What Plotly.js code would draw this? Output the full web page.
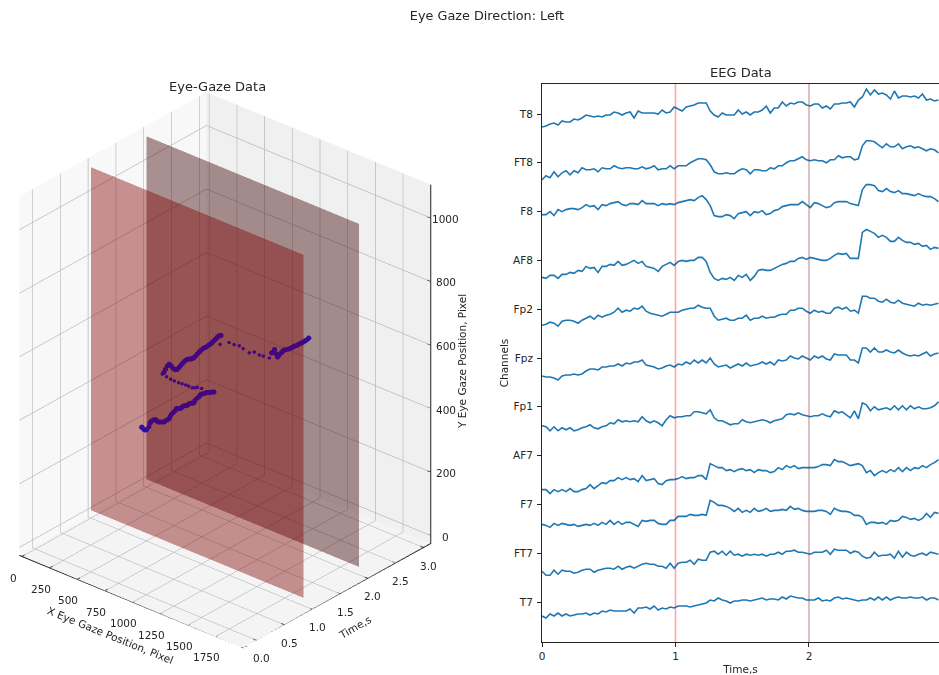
<!DOCTYPE html>
<html><head><meta charset="utf-8">
<script src="https://cdn.plot.ly/plotly-3.0.1.min.js"></script>
<style>html,body{margin:0;padding:0;background:#fff;overflow:hidden}</style></head>
<body><div id="chart" style="width:939px;height:675px"></div>
<script>
const channels = ['T7','FT7','F7','AF7','Fp1','Fpz','Fp2','AF8','F8','FT8','T8'];
const time = [0,.03,.06,.09,.12,.15,.18,.21,.24,.27,.3,.33,.36,.39,.42,.45,.48,.51,.54,.57,.6,.63,.66,.69,.72,.75,.78,.81,.84,.87,.9,.93,.96,.99,1.02,1.05,1.08,1.11,1.14,1.17,1.2,1.23,1.26,1.29,1.32,1.35,1.38,1.41,1.44,1.47,1.5,1.53,1.56,1.59,1.62,1.65,1.68,1.71,1.74,1.77,1.8,1.83,1.86,1.89,1.92,1.95,1.98,2.01,2.04,2.07,2.1,2.13,2.16,2.19,2.22,2.25,2.28,2.31,2.34,2.37,2.4,2.43,2.46,2.49,2.52,2.55,2.58,2.61,2.64,2.67,2.7,2.73,2.76,2.79,2.82,2.85,2.88,2.91,2.94,2.97];
const T8 = [-13,-12,-10,-9,-11,-7,-8,-8,-5,-6,-4,-1,-2,-3,-2,-3,-1,-1,2,1,-1,1,2,-4,3,1,1,1,1,0,4,1,2,7,5,3,7,8,9,11,11,11,3,-1,-3,1,-1,-1,-1,4,0,2,-1,2,2,4,8,1,6,6,12,8,11,10,12,12,9,8,10,10,6,8,5,10,10,11,11,12,7,14,17,25,19,24,20,21,19,15,23,16,18,18,17,18,16,20,14,15,13,14];
const FT8 = [-17,-13,-15,-9,-14,-10,-8,-12,-8,-10,-5,-7,-7,-6,-9,-5,-6,-6,-3,-5,-6,-5,-5,-6,-6,-4,-6,-5,-3,-7,-6,-6,-3,-6,-3,-3,-3,0,2,4,4,3,-2,-9,-11,-11,-10,-11,-11,-8,-6,-7,-11,-7,-7,-8,-8,-5,-6,-3,-3,0,2,2,4,6,3,2,3,2,2,0,3,3,7,5,6,6,3,4,17,22,22,21,18,15,19,16,16,19,14,16,17,15,16,14,12,14,13,10];
const F8 = [-3,-3,0,-4,2,0,2,3,3,2,4,7,5,6,2,7,6,8,9,10,7,6,8,8,7,11,8,8,8,6,8,7,8,7,9,10,11,12,11,14,16,12,6,-4,-5,-5,-3,-4,-7,-2,-1,0,-4,0,-1,1,-3,-2,1,2,5,6,7,7,7,10,7,4,9,8,6,4,5,9,10,10,10,8,7,6,22,27,27,26,21,20,23,20,19,21,18,18,17,16,18,16,15,15,13,10];
const AF8 = [-17,-18,-15,-15,-18,-14,-14,-12,-13,-10,-11,-6,-8,-7,-12,-6,-6,-4,-5,-1,-5,-4,-2,0,-3,-1,-6,-7,-8,-11,-6,-4,-2,-5,-1,0,-1,0,0,3,3,-1,-12,-18,-20,-18,-19,-17,-20,-15,-17,-14,-20,-16,-10,-9,-10,-10,-8,-6,-4,-3,-1,-1,2,3,1,3,2,1,0,0,2,5,7,6,7,2,2,2,28,31,29,27,23,25,23,19,19,23,20,18,18,16,17,14,15,11,13,12];
const Fp2 = [-16,-15,-13,-14,-17,-12,-11,-11,-12,-14,-11,-9,-7,-10,-6,-8,-6,-5,-3,1,-3,-1,-2,1,0,3,-2,-4,-5,-6,-7,-5,-3,-3,-3,-1,0,1,1,4,2,1,1,-7,-11,-10,-9,-11,-11,-9,-9,-6,-11,-9,-9,-7,-9,-8,-8,-6,-5,-5,-1,-1,1,1,-2,-4,-1,-3,-2,-4,-4,1,2,0,2,-2,-1,-4,13,13,11,11,8,7,10,7,6,9,6,5,4,3,6,4,5,4,5,6];
const Fpz = [-18,-19,-19,-20,-22,-18,-17,-17,-16,-17,-16,-13,-11,-11,-12,-9,-9,-8,-8,-6,-8,-5,-6,-4,-4,-2,-7,-8,-9,-11,-10,-8,-7,-9,-6,-7,-4,-6,-2,-5,-2,-5,0,-6,-9,-8,-7,-10,-8,-6,-8,-5,-8,-7,-6,-4,-6,-4,-7,-2,-3,-2,2,0,-1,2,0,-2,2,0,2,-1,-2,4,3,3,3,-2,-2,-5,10,10,6,10,6,6,8,6,5,8,5,3,2,3,2,4,6,2,4,5];
const Fp1 = [-19,-20,-24,-20,-24,-21,-23,-21,-24,-23,-21,-20,-18,-21,-22,-20,-19,-16,-17,-13,-15,-14,-15,-14,-15,-10,-14,-16,-14,-16,-19,-13,-9,-11,-10,-10,-9,-9,-5,-5,-6,-7,-3,-11,-14,-14,-16,-18,-17,-17,-13,-15,-16,-15,-14,-13,-14,-16,-14,-13,-12,-8,-7,-8,-6,-8,-9,-10,-9,-9,-7,-9,-10,-4,-6,-5,-8,-11,-4,-12,4,2,-4,0,-3,-2,-1,-3,1,-3,1,-3,1,-2,0,-2,-2,-1,1,5];
const AF7 = [-34,-34,-38,-34,-36,-34,-36,-33,-36,-36,-34,-33,-29,-33,-30,-27,-28,-25,-25,-22,-24,-22,-24,-23,-26,-20,-25,-24,-23,-28,-29,-25,-24,-24,-23,-21,-23,-22,-22,-20,-20,-24,-8,-10,-12,-12,-15,-14,-16,-14,-13,-15,-14,-17,-14,-15,-15,-17,-16,-12,-14,-10,-12,-10,-13,-12,-12,-12,-12,-11,-9,-9,-10,-4,-6,-6,-8,-10,-9,-8,-10,-17,-15,-20,-17,-15,-17,-14,-16,-12,-16,-12,-15,-12,-13,-10,-12,-9,-7,-4];
const F7 = [-20,-21,-23,-19,-21,-19,-20,-21,-20,-22,-21,-20,-21,-19,-21,-18,-20,-16,-20,-17,-20,-18,-18,-20,-22,-16,-17,-16,-16,-19,-20,-20,-16,-16,-12,-12,-12,-10,-11,-11,-10,-11,4,2,-1,-1,-2,-4,-7,-4,-8,-6,-8,-4,-7,-6,-4,-7,-6,-6,-5,-6,-2,-5,-4,-6,-7,-7,-7,-6,-6,-7,-10,-4,-6,-7,-7,-8,-11,-11,-13,-20,-18,-18,-19,-18,-20,-16,-17,-16,-12,-13,-15,-14,-16,-14,-9,-13,-8,-9];
const FT7 = [-18,-22,-22,-17,-21,-17,-18,-18,-20,-19,-17,-16,-16,-19,-17,-16,-15,-15,-16,-13,-16,-14,-13,-15,-13,-11,-10,-11,-11,-13,-13,-15,-10,-15,-10,-9,-9,-7,-11,-6,-7,-7,1,2,-1,2,-2,2,-2,-1,-3,-1,-2,-1,-2,-1,-3,-1,-1,1,-1,2,2,3,1,1,0,-1,1,1,1,3,-1,4,3,3,3,0,2,1,-3,-5,-4,1,-3,-2,-2,-1,-5,2,-4,1,-2,-3,-1,0,-2,1,0,-1];
const T7 = [-14,-16,-12,-14,-11,-14,-12,-14,-13,-12,-12,-11,-13,-11,-12,-9,-10,-8,-9,-9,-9,-9,-7,-11,-6,-6,-5,-7,-4,-8,-6,-7,-5,-6,-4,-4,-4,-5,-4,-3,-2,-1,2,1,4,2,1,-1,1,1,2,2,1,2,3,4,2,3,3,2,5,3,6,5,4,4,2,2,2,4,1,2,1,4,5,3,4,3,2,1,2,2,4,2,5,2,5,2,4,5,4,4,5,4,4,5,2,4,4,2];
const eegByChannel = [T7,FT7,F7,AF7,Fp1,Fpz,Fp2,AF8,F8,FT8,T8];
const channelGap = 48.8;
const eventTimes = [1,2];
const gazeTime = [0,.03,.06,.09,.12,.15,.18,.21,.24,.27,.3,.33,.36,.39,.42,.45,.48,.51,.54,.57,.6,.63,.66,.69,.72,.75,.78,.81,.84,.87,.9,.93,.96,.99,1.02,1.05,1.08,1.11,1.14,1.17,1.2,1.23,1.26,
 1.28,1.29,1.295,1.3,1.305,1.31,1.315,1.32,1.325,1.33,1.345,1.36,
 1.39,1.42,1.45,1.48,1.51,1.54,1.57,1.6,1.63,1.66,1.69,1.72,1.75,1.78,1.81,1.84,1.87,1.9,1.93,1.96,1.99,2.02,2.05,2.08,2.11,2.14,2.17,2.2,2.23,2.26,2.29,2.32,2.35,2.37,
 2.38,2.4,2.41,2.42,2.43,2.44,2.45,2.46,2.47,2.48,
 2.49,2.5,2.52,2.53,2.55,2.58,2.6,2.62,2.65,2.68,2.71,2.74,2.76,2.79,2.82,2.85,2.87,2.9,2.93,2.96,2.98];
const gazeX = [960,962,955,958,965,960,957,962,966,960,958,955,960,963,958,962,967,960,957,960,964,958,962,966,960,957,962,965,959,956,961,964,958,962,967,960,964,968,970,972,975,978,980,
 860,816,790,765,730,700,665,631,590,554,510,463,
 462,463,465,466,468,470,473,475,477,478,480,481,482,480,478,478,476,477,479,480,482,483,484,483,482,483,482,482,481,482,483,482,484,487,
 474,545,585,627,657,707,747,788,819,869,
 885,905,912,918,922,928,932,936,940,944,950,953,956,958,960,962,964,966,968,971,973];
const gazeY = [497,489,482,480,488,496,498,500,498,490,484,480,478,476,474,476,478,481,484,488,492,494,492,490,489,490,489,488,487,486,485,484,487,492,495,496,497,496,496,494,492,490,488,
 480,476,470,466,466,465,463,461,460,460,460,460,
 462,470,478,480,472,462,455,453,456,460,464,467,469,468,466,463,461,461,464,468,471,474,476,476,475,476,477,477,479,481,484,487,488,487,
 456,470,468,470,464,457,464,460,460,460,
 478,490,475,465,470,476,480,482,481,480,481,482,483,482,483,483,483,484,485,487,489];
const screenX = [0,1920];
const screenY = [0,1080];
const planeTimes = [2,1];
const planeColors = ['rgb(60,0,0)','rgb(128,0,0)'];
const eventColors = ['rgba(255,0,0,0.35)','rgba(140,30,30,0.35)'];
const xTicks = [0,250,500,750,1000,1250,1500,1750];
const tTicks = [0,.5,1,1.5,2,2.5,3];
const tTickText = ['0.0','0.5','1.0','1.5','2.0','2.5','3.0'];
const zTicks = [0,200,400,600,800,1000];
const xRange = [-25,2000], tRange = [-.24,3.13], zRange = [-25,1105];
const font = 'DejaVu Sans, sans-serif', ink = '#262626';

const traces = [];
planeTimes.forEach((t,i)=>traces.push({
  type:'mesh3d', scene:'scene',
  x:[screenX[0],screenX[1],screenX[1],screenX[0]],
  y:[t,t,t,t],
  z:[screenY[0],screenY[0],screenY[1],screenY[1]],
  i:[0,0], j:[1,2], k:[2,3],
  color:planeColors[i], opacity:.42, flatshading:true, hoverinfo:'skip', showscale:false,
  lighting:{ambient:1,diffuse:0,specular:0,roughness:1,fresnel:0}
}));
const fx=[xRange[0],xRange[1],xRange[1],xRange[1]], ft=[tRange[0],tRange[0],tRange[1],tRange[1]], fz=[zRange[0],zRange[0],zRange[0],zRange[1]];
xTicks.forEach(v=>{fx.push(null,v,v);ft.push(null,tRange[0]-.05,tRange[0]+.05);fz.push(null,zRange[0],zRange[0]);});
tTicks.forEach(v=>{fx.push(null,xRange[1]+30,xRange[1]-30);ft.push(null,v,v);fz.push(null,zRange[0],zRange[0]);});
zTicks.forEach(v=>{fx.push(null,xRange[1]+30,xRange[1]-30);ft.push(null,tRange[1],tRange[1]);fz.push(null,v,v);});
traces.push({type:'scatter3d',scene:'scene',mode:'lines',x:fx,y:ft,z:fz,connectgaps:false,hoverinfo:'skip',line:{color:'#222',width:2}});
const isSparse = t => (t>1.27&&t<1.38)||(t>2.375&&t<2.485);
traces.push({type:'scatter3d',scene:'scene',mode:'markers',x:gazeX,y:gazeTime,z:gazeY,hoverinfo:'skip',opacity:.99,
  marker:{size:gazeTime.map(t=>isSparse(t)?4:6),opacity:.99,line:{width:0},color:gazeTime.map(t=>(t<.12||t>2.93)?'#2c0fa0':'#43067e')}});
channels.forEach((c,i)=>traces.push({type:'scatter',mode:'lines',xaxis:'x',yaxis:'y',name:c,x:time,
  y:eegByChannel[i].map(v=>v+i*channelGap),line:{color:'#1f77b4',width:1.6},hoverinfo:'skip',showlegend:false}));

function tickNote(x,y,z,text,xs,ys){return {x,y,z,text,showarrow:false,xanchor:'center',yanchor:'middle',xshift:xs,yshift:ys,font:{family:font,size:10.5,color:ink}};}
const sceneNotes = [
  ...xTicks.map(v=>tickNote(v,tRange[0],zRange[0],String(v),-9,-21)),
  ...tTicks.map((v,i)=>tickNote(xRange[1],v,zRange[0],tTickText[i],5,-18)),
  ...zTicks.map(v=>tickNote(xRange[1],tRange[1],v,String(v),15,-1))
];
const paperNote=(px,py,text,size,angle)=>({xref:'paper',yref:'paper',x:px/939,y:1-py/675,text,showarrow:false,xanchor:'center',yanchor:'middle',textangle:angle||0,font:{family:font,size,color:ink}});
const ax3=(range,ticks,bg)=>({range,tickvals:ticks,ticktext:ticks.map(()=>''),showticklabels:false,title:{text:''},autorange:false,
  showbackground:true,backgroundcolor:bg,gridcolor:'#b8b8b8',gridwidth:1.5,showline:false,ticks:'',
  zeroline:false,showspikes:false});
const r=1.75;
const layout={
  width:939,height:675,autosize:false,margin:{l:0,r:0,t:0,b:0},paper_bgcolor:'#fff',plot_bgcolor:'#fff',showlegend:false,
  title:{text:'Eye Gaze Direction: Left',x:487/939,xanchor:'center',y:1-16/675,yanchor:'middle',font:{family:font,size:12.8,color:ink}},
  scene:{domain:{x:[0,450/939],y:[15/675,595/675]},
    xaxis:ax3(xRange,xTicks,'rgb(248,248,248)'),
    yaxis:ax3(tRange,tTicks,'rgb(240,240,240)'),
    zaxis:ax3(zRange,zTicks,'rgb(244,244,244)'),
    aspectmode:'manual',aspectratio:{x:1.02,y:.99,z:1.41},
    camera:{projection:{type:'orthographic'},up:{x:0,y:0,z:1},center:{x:0,y:0,z:0},eye:{x:.572*r,y:-.665*r,z:.479*r}},
    annotations:sceneNotes},
  xaxis:{domain:[542/939,1],range:[0,2.974],tickvals:[0,1,2],ticktext:['0','1','2'],ticks:'outside',ticklen:4,tickcolor:ink,showline:true,linecolor:ink,linewidth:1,mirror:true,showgrid:false,zeroline:false,
    tickfont:{family:font,size:10.5,color:ink},title:{text:'Time,s',font:{family:font,size:10.5,color:ink},standoff:6}},
  yaxis:{domain:[33/675,591/675],range:[-40,518],tickvals:channels.map((c,i)=>i*channelGap),ticktext:channels,ticks:'outside',ticklen:4,tickcolor:ink,showline:true,linecolor:ink,linewidth:1,showgrid:false,zeroline:false,ticklabelstandoff:2,
    tickfont:{family:font,size:10.5,color:ink},title:{text:'Channels',font:{family:font,size:10.5,color:ink},standoff:2}},
  shapes:eventTimes.map((t,i)=>({type:'line',xref:'x',yref:'paper',x0:t,x1:t,y0:33/675,y1:591/675,line:{color:eventColors[i],width:1.6}})),
  annotations:[
    paperNote(217,87,'Eye-Gaze Data',13),
    paperNote(741,73,'EEG Data',13),
    paperNote(110,635,'X Eye Gaze Position, Pixel',10.5,22),
    paperNote(355,627,'Time,s',10.5,-30),
    paperNote(462,362,'Y Eye Gaze Position, Pixel',10.5,-90)
  ]
};
Plotly.newPlot('chart',traces,layout,{displayModeBar:false,responsive:false});
</script></body></html>
